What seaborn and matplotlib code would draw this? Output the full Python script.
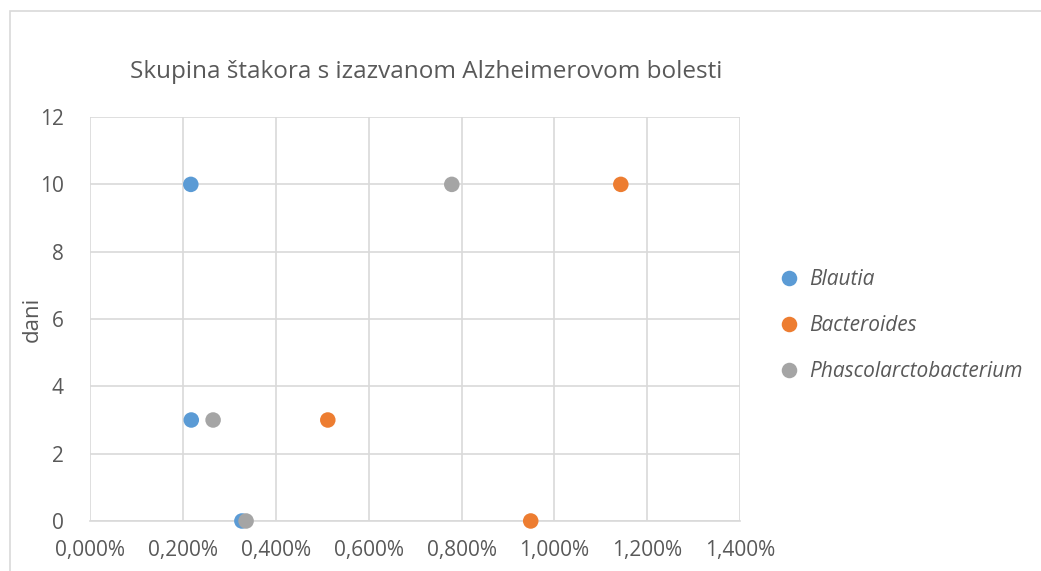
import pandas as pd
import seaborn as sns
import matplotlib.pyplot as plt
from matplotlib.ticker import FuncFormatter, MultipleLocator
from matplotlib.patches import Rectangle

# data (x = relative abundance in %, y = days)
blautia_x = [0.217, 0.218, 0.327]
bacteroides_x = [1.143, 0.512, 0.949]
phasco_x = [0.779, 0.265, 0.336]
days = [10, 3, 0]
species = ['Blautia', 'Bacteroides', 'Phascolarctobacterium']
colors = ['#5b9bd5', '#ed7d31', '#a5a5a5']

df = pd.DataFrame({
    'udio': blautia_x + bacteroides_x + phasco_x,
    'dani': days * 3,
    'rod': [s for s in species for _ in days],
})

sns.set_style('white')
plt.rcParams['font.family'] = ['Open Sans', 'DejaVu Sans']

fig = plt.figure(figsize=(10.41, 5.71), dpi=100)
ax = fig.add_axes([0.0865, 0.0876, 0.6245, 0.7074])

sns.scatterplot(data=df, x='udio', y='dani', hue='rod', hue_order=species,
                palette=colors, s=125, edgecolor='none', ax=ax, zorder=3,
                clip_on=False)

ax.set_xlim(0, 1.4)
ax.set_ylim(0, 12)
ax.xaxis.set_major_locator(MultipleLocator(0.2))
ax.yaxis.set_major_locator(MultipleLocator(2))
ax.xaxis.set_major_formatter(FuncFormatter(lambda v, p: f'{v:.3f}%'.replace('.', ',')))
ax.grid(True, color='#d9d9d9', linewidth=1.2)
for side in ['top', 'right', 'left']:
    ax.spines[side].set_visible(False)
ax.spines['bottom'].set_color('#d9d9d9')
ax.spines['bottom'].set_linewidth(1.2)
ax.tick_params(length=0, labelsize=15, labelcolor='#595959')
ax.tick_params(axis='y', pad=19)
ax.tick_params(axis='x', pad=14)
ax.set_xlabel('')
ax.set_ylabel('dani', fontsize=16, color='#595959', labelpad=-2)
ax.set_title('Skupina štakora s izazvanom Alzheimerovom bolesti',
             fontsize=17.5, color='#595959', pad=28, x=0.517)

leg = ax.legend(loc='center left', bbox_to_anchor=(1.015, 0.483), frameon=False,
                handletextpad=-0.05, labelspacing=1.2, fontsize=15, markerscale=1.0)
for t in leg.get_texts():
    t.set_style('italic')
    t.set_color('#595959')

# chart area border
fig.patches.append(Rectangle((0.0096, -0.1), 1.2, 1.081, transform=fig.transFigure,
                             fill=False, edgecolor='#d9d9d9', linewidth=1.2))

fig.savefig('out.png', dpi=100)
